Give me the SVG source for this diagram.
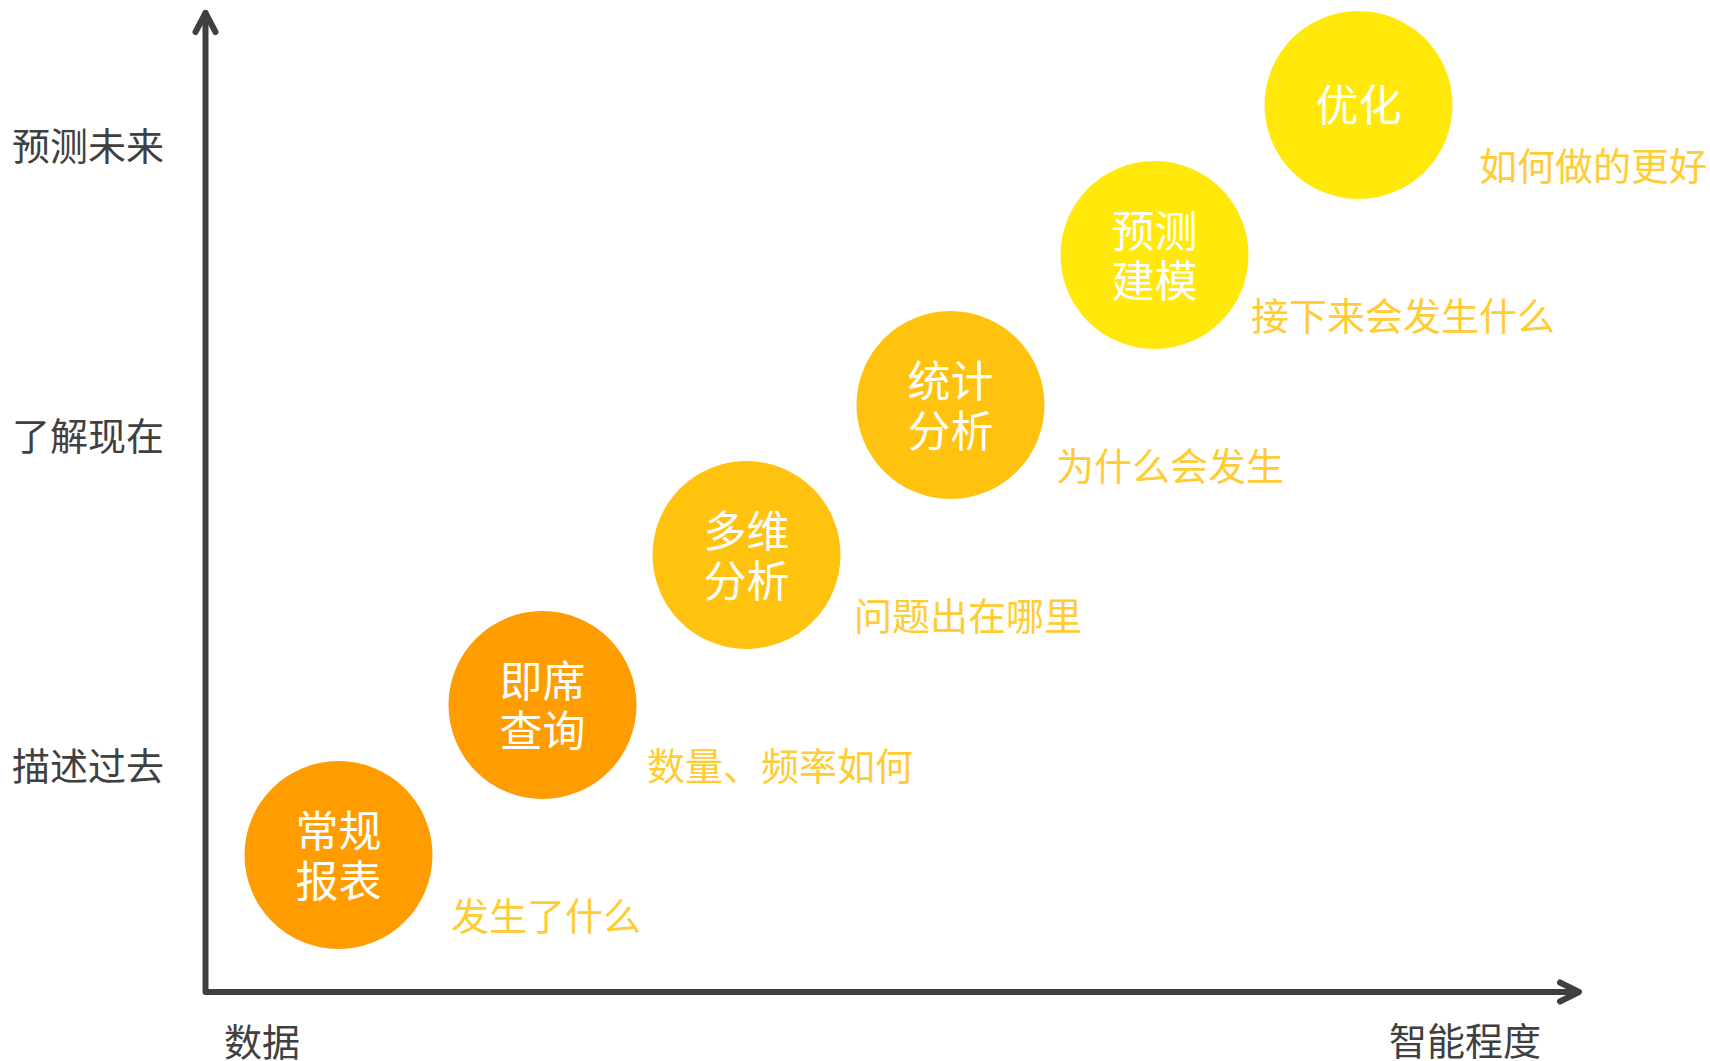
<svg xmlns="http://www.w3.org/2000/svg" width="1710" height="1061" viewBox="0 0 1710 1061">
<style>
text{font-family:"Noto Sans CJK SC","Noto Sans",sans-serif}
.ax{font-size:38px;fill:#404040}
.nt{font-size:43px;fill:#ffffff;text-anchor:middle}
.lb{font-size:38px;fill:#FFCC33}
.c1{fill:#FF9C00}
.c2{fill:#FFC20E}
.c3{fill:#FFE80A}
.axis{fill:none;stroke:#404040;stroke-width:6;stroke-linecap:round;stroke-linejoin:round}
</style>
<rect width="1710" height="1061" fill="#ffffff"/>
<g id="connectors">
<path class="axis" d="M205.5 13 V992 H1578"/>
<path class="axis" d="M195.5 32 L205.5 13 L215.5 32"/>
<path class="axis" d="M1560 982.5 L1579 992 L1560 1001.5"/>
</g>
<g id="axis-labels">
<text class="ax" x="12" y="160">预测未来</text>
<text class="ax" x="12" y="450">了解现在</text>
<text class="ax" x="12" y="780">描述过去</text>
<text class="ax" x="224" y="1056">数据</text>
<text class="ax" x="1389" y="1055">智能程度</text>
</g>
<g id="node-changgui">
<circle class="c1" cx="338.5" cy="855" r="94"/>
<text class="nt" x="338.5" y="847">常规</text>
<text class="nt" x="338.5" y="897">报表</text>
<text class="lb" x="451" y="930">发生了什么</text>
</g>
<g id="node-jixi">
<circle class="c1" cx="542.5" cy="705" r="94"/>
<text class="nt" x="542.5" y="697">即席</text>
<text class="nt" x="542.5" y="747">查询</text>
<text class="lb" x="647" y="780">数量、频率如何</text>
</g>
<g id="node-duowei">
<circle class="c2" cx="746.5" cy="555" r="94"/>
<text class="nt" x="746.5" y="547">多维</text>
<text class="nt" x="746.5" y="597">分析</text>
<text class="lb" x="854" y="630">问题出在哪里</text>
</g>
<g id="node-tongji">
<circle class="c2" cx="950.5" cy="405" r="94"/>
<text class="nt" x="950.5" y="397">统计</text>
<text class="nt" x="950.5" y="447">分析</text>
<text class="lb" x="1056" y="480">为什么会发生</text>
</g>
<g id="node-yuce">
<circle class="c3" cx="1154.5" cy="255" r="94"/>
<text class="nt" x="1154.5" y="247">预测</text>
<text class="nt" x="1154.5" y="297">建模</text>
<text class="lb" x="1251" y="330">接下来会发生什么</text>
</g>
<g id="node-youhua">
<circle class="c3" cx="1358.5" cy="105" r="94"/>
<text class="nt" x="1358.5" y="121">优化</text>
<text class="lb" x="1479" y="180">如何做的更好</text>
</g>
</svg>
